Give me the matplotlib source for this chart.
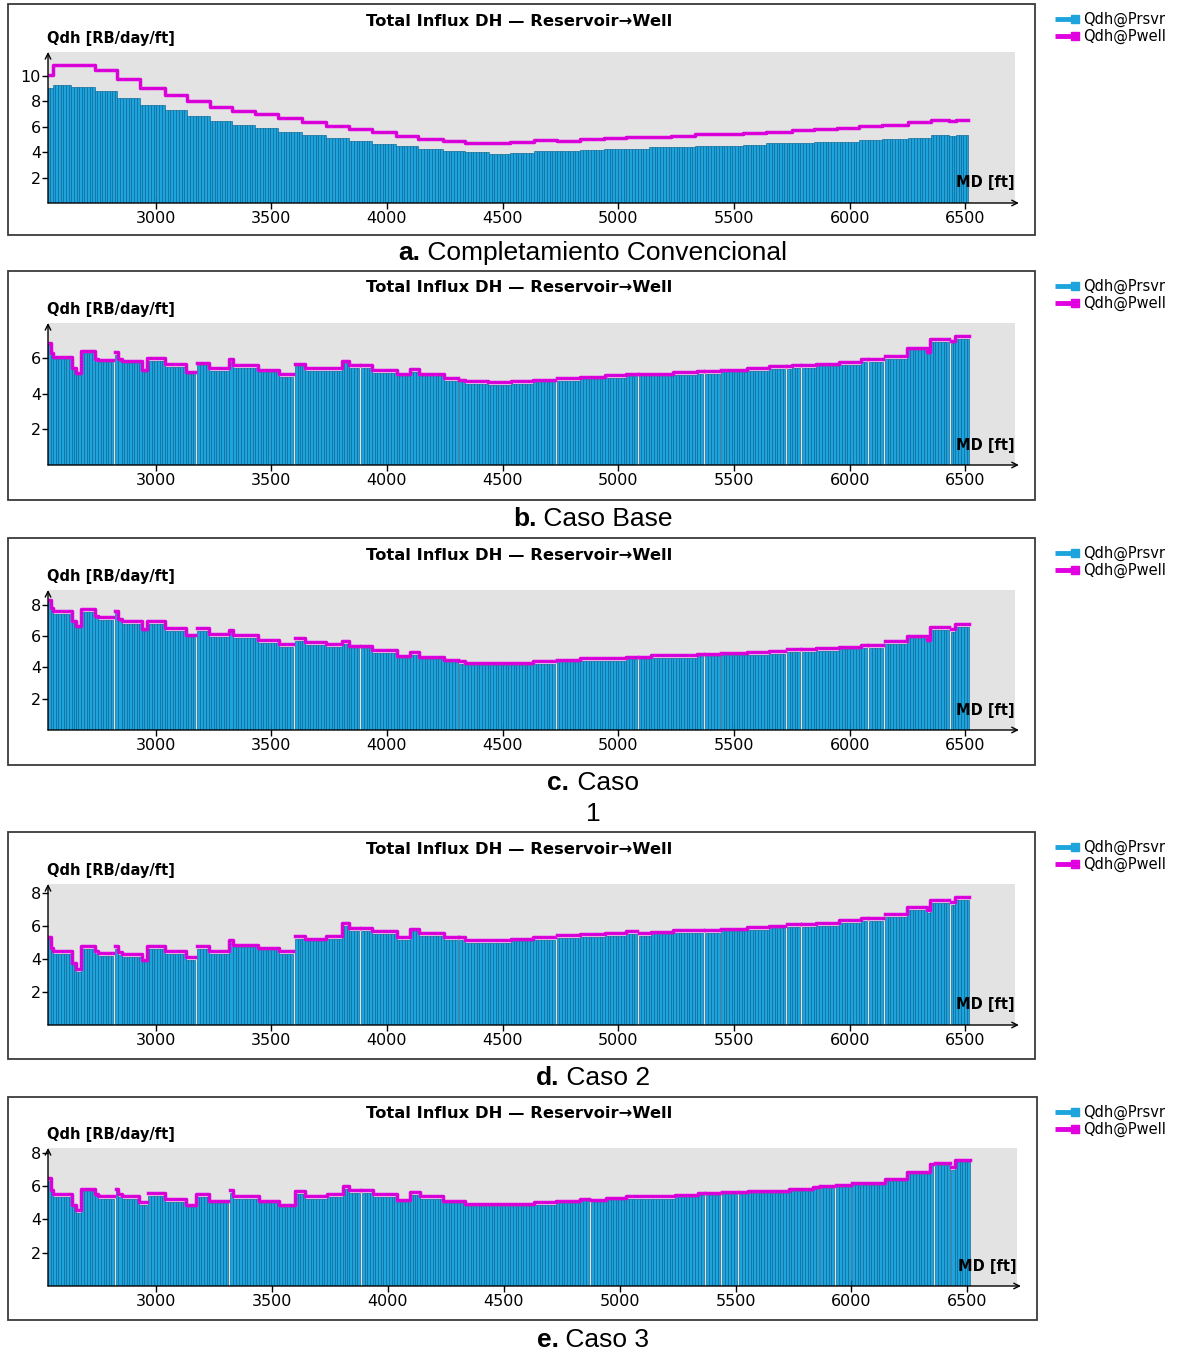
import matplotlib.pyplot as plt
import numpy as np
from matplotlib.lines import Line2D
from matplotlib.patches import Rectangle

W, H = 1184, 1353

# MD segment edges [ft] and influx [RB/day/ft]; 0 = packer (no influx)
a_edges = [2535, 2555, 2636, 2737, 2835, 2931, 3040, 3137, 3233, 3331, 3429, 3530,
           3633, 3738, 3835, 3935, 4039, 4136, 4242, 4339, 4441, 4533, 4635, 4736,
           4836, 4938, 5035, 5132, 5229, 5330, 5435, 5538, 5640, 5750, 5847, 5944,
           6041, 6138, 6253, 6350, 6430, 6460, 6512]
a_prsvr = [9.10, 9.28, 9.17, 8.80, 8.27, 7.73, 7.31, 6.88, 6.48, 6.13, 5.92, 5.60,
           5.39, 5.12, 4.85, 4.68, 4.49, 4.28, 4.09, 3.98, 3.88, 3.96, 4.06, 4.06,
           4.20, 4.28, 4.28, 4.38, 4.38, 4.49, 4.49, 4.59, 4.70, 4.70, 4.80, 4.83,
           4.93, 5.01, 5.15, 5.33, 5.25, 5.33]
a_pwell = [10.1, 10.85, 10.85, 10.45, 9.81, 9.07, 8.53, 8.05, 7.60, 7.28, 6.99, 6.67,
           6.35, 6.08, 5.81, 5.60, 5.30, 5.07, 4.91, 4.70, 4.70, 4.80, 4.93, 4.91,
           5.01, 5.12, 5.23, 5.23, 5.30, 5.41, 5.41, 5.52, 5.62, 5.75, 5.83, 5.94,
           6.04, 6.15, 6.36, 6.55, 6.45, 6.55]

# cases b, c and d share the same completion segments
bcd_edges = [2535, 2547, 2557, 2637, 2655, 2678, 2738, 2752, 2816, 2824, 2839, 2853,
             2940, 2961, 3040, 3130, 3172, 3180, 3230, 3317, 3334, 3443, 3532, 3595,
             3603, 3645, 3738, 3806, 3835, 3881, 3889, 3935, 4042, 4100, 4139, 4245,
             4305, 4313, 4339, 4436, 4536, 4630, 4726, 4734, 4836, 4942, 5035, 5081,
             5089, 5141, 5238, 5341, 5367, 5375, 5437, 5445, 5556, 5653, 5721, 5729,
             5750, 5786, 5794, 5856, 5953, 6050, 6076, 6084, 6143, 6151, 6247, 6332,
             6346, 6429, 6437, 6455, 6517]

b_prsvr = [6.80, 6.16, 5.94, 5.33, 5.05, 6.27, 5.82, 5.79, 0, 6.19,
           5.82, 5.70, 5.24, 5.86, 5.51, 5.09, 0, 5.60, 5.29, 5.79,
           5.47, 5.20, 4.96, 0, 5.53, 5.29, 5.29, 5.70, 5.47, 0,
           5.47, 5.18, 4.98, 5.23, 4.98, 4.72, 0, 4.65, 4.57, 4.50,
           4.57, 4.65, 0, 4.72, 4.82, 4.91, 4.98, 0, 4.98, 4.98,
           5.06, 5.13, 0, 5.13, 0, 5.21, 5.30, 5.40, 0, 5.40,
           5.47, 0, 5.47, 5.54, 5.62, 5.79, 0, 5.79, 0, 5.96,
           6.44, 6.22, 6.91, 0, 6.82, 7.06]
b_pwell = [6.87, 6.26, 6.08, 5.43, 5.19, 6.39, 5.93, 5.89, 0, 6.32,
           5.93, 5.82, 5.34, 5.98, 5.65, 5.21, 0, 5.74, 5.43, 5.93,
           5.62, 5.34, 5.12, 0, 5.67, 5.43, 5.43, 5.84, 5.62, 0,
           5.62, 5.32, 5.13, 5.37, 5.13, 4.87, 0, 4.79, 4.72, 4.64,
           4.72, 4.79, 0, 4.87, 4.96, 5.05, 5.13, 0, 5.13, 5.13,
           5.20, 5.28, 0, 5.28, 0, 5.35, 5.45, 5.54, 0, 5.54,
           5.61, 0, 5.61, 5.69, 5.76, 5.93, 0, 5.93, 0, 6.10,
           6.59, 6.36, 7.05, 0, 6.96, 7.24]

c_prsvr = [8.17, 7.62, 7.41, 6.80, 6.52, 7.52, 7.13, 7.04, 0, 7.47,
           6.97, 6.78, 6.32, 6.78, 6.32, 5.93, 0, 6.32, 5.96, 6.22,
           5.85, 5.57, 5.28, 0, 5.67, 5.41, 5.28, 5.48, 5.20, 0,
           5.20, 4.92, 4.61, 4.78, 4.53, 4.32, 0, 4.23, 4.15, 4.15,
           4.15, 4.23, 0, 4.32, 4.42, 4.42, 4.51, 0, 4.51, 4.59,
           4.59, 4.70, 0, 4.70, 0, 4.76, 4.80, 4.87, 0, 4.97,
           4.97, 0, 4.97, 5.06, 5.14, 5.23, 0, 5.23, 0, 5.51,
           5.85, 5.60, 6.40, 0, 6.26, 6.57]
c_pwell = [8.30, 7.76, 7.59, 6.94, 6.66, 7.70, 7.26, 7.22, 0, 7.61,
           7.11, 6.96, 6.46, 6.96, 6.50, 6.09, 0, 6.50, 6.14, 6.40,
           6.03, 5.75, 5.46, 0, 5.85, 5.59, 5.46, 5.66, 5.38, 0,
           5.38, 5.08, 4.75, 4.96, 4.66, 4.49, 0, 4.41, 4.30, 4.30,
           4.30, 4.41, 0, 4.49, 4.60, 4.60, 4.68, 0, 4.68, 4.77,
           4.77, 4.87, 0, 4.87, 0, 4.94, 4.97, 5.04, 0, 5.15,
           5.15, 0, 5.15, 5.24, 5.32, 5.41, 0, 5.41, 0, 5.68,
           6.02, 5.77, 6.57, 0, 6.43, 6.74]

d_prsvr = [5.22, 4.54, 4.29, 3.62, 3.23, 4.62, 4.31, 4.19, 0, 4.62,
           4.25, 4.15, 3.84, 4.62, 4.29, 3.94, 0, 4.62, 4.29, 5.00,
           4.71, 4.52, 4.29, 0, 5.24, 5.07, 5.22, 6.00, 5.73, 0,
           5.73, 5.52, 5.17, 5.68, 5.42, 5.17, 0, 5.17, 4.99, 4.99,
           5.07, 5.17, 0, 5.27, 5.35, 5.42, 5.50, 0, 5.42, 5.50,
           5.58, 5.58, 0, 5.60, 0, 5.68, 5.76, 5.86, 0, 5.97,
           5.97, 0, 5.97, 6.03, 6.19, 6.29, 0, 6.29, 0, 6.56,
           7.00, 6.80, 7.41, 0, 7.30, 7.59]
d_pwell = [5.34, 4.67, 4.46, 3.74, 3.39, 4.79, 4.48, 4.36, 0, 4.79,
           4.42, 4.32, 3.97, 4.79, 4.46, 4.11, 0, 4.79, 4.46, 5.14,
           4.87, 4.69, 4.46, 0, 5.41, 5.24, 5.39, 6.17, 5.90, 0,
           5.90, 5.67, 5.34, 5.84, 5.58, 5.34, 0, 5.34, 5.15, 5.15,
           5.23, 5.34, 0, 5.44, 5.52, 5.58, 5.68, 0, 5.58, 5.66,
           5.74, 5.74, 0, 5.76, 0, 5.84, 5.93, 6.03, 0, 6.13,
           6.13, 0, 6.13, 6.19, 6.35, 6.46, 0, 6.46, 0, 6.72,
           7.17, 6.97, 7.58, 0, 7.47, 7.76]

e_edges = [2535, 2547, 2557, 2637, 2655, 2678, 2738, 2752, 2820, 2828, 2839, 2853,
           2928, 2960, 2968, 3040, 3130, 3173, 3230, 3313, 3321, 3334, 3443, 3532,
           3602, 3645, 3738, 3806, 3835, 3881, 3889, 3935, 4040, 4097, 4138, 4238,
           4335, 4631, 4728, 4830, 4869, 4877, 4940, 5028, 5240, 5337, 5364, 5372,
           5435, 5443, 5505, 5513, 5553, 5729, 5835, 5858, 5866, 5925, 5933, 5996,
           6004, 6144, 6241, 6338, 6352, 6360, 6423, 6431, 6445, 6510]
e_prsvr = [6.31, 5.63, 5.34, 4.73, 4.42, 5.69, 5.40, 5.24, 0, 5.70,
           5.35, 5.24, 4.87, 0, 5.42, 5.08, 4.73, 5.34, 4.97, 0,
           5.60, 5.26, 4.97, 4.73, 5.53, 5.24, 5.34, 5.86, 5.59, 0,
           5.59, 5.38, 5.06, 5.49, 5.23, 4.98, 4.82, 4.90, 4.98, 5.11,
           0, 5.06, 5.15, 5.23, 5.35, 5.45, 0, 5.45, 0, 5.53,
           0, 5.53, 5.61, 5.72, 5.85, 0, 5.90, 0, 5.98, 0,
           6.06, 6.31, 6.75, 7.20, 0, 7.28, 0, 7.00, 7.47]
e_pwell = [6.47, 5.76, 5.51, 4.89, 4.58, 5.86, 5.55, 5.41, 0, 5.86,
           5.51, 5.41, 5.04, 0, 5.59, 5.24, 4.89, 5.51, 5.14, 0,
           5.76, 5.43, 5.14, 4.89, 5.69, 5.41, 5.51, 6.02, 5.76, 0,
           5.76, 5.53, 5.19, 5.66, 5.39, 5.11, 4.96, 5.05, 5.13, 5.25,
           0, 5.19, 5.31, 5.39, 5.47, 5.57, 0, 5.57, 0, 5.66,
           0, 5.66, 5.74, 5.84, 5.98, 0, 6.02, 0, 6.10, 0,
           6.18, 6.43, 6.88, 7.32, 0, 7.41, 0, 7.14, 7.59]

x_ticks = [3000, 3500, 4000, 4500, 5000, 5500, 6000, 6500]
series_names = ["Qdh@Prsvr", "Qdh@Pwell"]
title = "Total Influx DH \u2014 Reservoir\u2192Well"

BLUE = "#1ea4dc"
BLUE_EDGE = "#0a6696"
MAGENTA = "#e000e0"

fig = plt.figure(figsize=(W / 100, H / 100), dpi=100)


def fx(px):
    return px / W


def fy(py):
    return 1 - py / H


def draw_panel(frame, plot, edges, prsvr, pwell, ymax, yticks):
    x0, y0, x1, y1 = frame
    fig.add_artist(Rectangle((fx(x0), fy(y1)), fx(x1) - fx(x0), fy(y0) - fy(y1),
                             transform=fig.transFigure, fill=False,
                             ec="#3a3a3a", lw=1.3))
    l, t, r, b = plot
    ax = fig.add_axes([fx(l), fy(b), fx(r) - fx(l), fy(t) - fy(b)])
    ax.set_facecolor("#e3e3e3")

    edges = np.asarray(edges, float)
    prsvr = np.asarray(prsvr, float)
    pwell = np.asarray(pwell, float)

    # each segment is drawn as thin cells, like the simulator output
    lefts, widths, heights = [], [], []
    for xa, xb, q in zip(edges[:-1], edges[1:], prsvr):
        if q <= 0:
            continue
        n = max(1, int(round((xb - xa) / 11.5)))
        cuts = np.linspace(xa, xb, n + 1)
        lefts.extend(cuts[:-1])
        widths.extend(np.diff(cuts))
        heights.extend([q] * n)
    ax.bar(lefts, heights, width=widths, align="edge", color=BLUE,
           edgecolor=BLUE_EDGE, linewidth=0.45, zorder=2)

    line = np.where(pwell > 0, pwell, np.nan)
    ys = np.append(line, line[-1])
    ax.step(edges, ys, where="post", color=MAGENTA, lw=2.5, zorder=3)
    ax.step(edges, ys, where="post", color="#8c1a8c", lw=0.8, zorder=3.1,
            dashes=(0.8, 2.0), alpha=0.7)

    ax.set_xlim(2535, 6714)
    ax.set_ylim(0, ymax)
    ax.set_xticks(x_ticks)
    ax.set_yticks(yticks)
    for s in ax.spines.values():
        s.set_visible(False)
    ax.tick_params(axis="x", direction="inout", length=8, width=1, labelsize=11.5, pad=2)
    ax.tick_params(axis="y", direction="out", length=4, width=1, labelsize=11.5, pad=1)

    arrow = dict(arrowstyle="->", lw=1.0, color="black", shrinkA=0, shrinkB=0)
    ax.annotate("", xy=(0, 1.0), xytext=(0, 0), xycoords="axes fraction",
                arrowprops=arrow, annotation_clip=False)
    ax.annotate("", xy=(1.004, 0), xytext=(0, 0), xycoords="axes fraction",
                arrowprops=arrow, annotation_clip=False)

    ax.annotate("Qdh [RB/day/ft]", xy=(0, 1), xycoords="axes fraction",
                xytext=(-1, 4), textcoords="offset points", ha="left", va="bottom",
                fontsize=10.5, fontweight="bold")
    ax.annotate("MD [ft]", xy=(1, 0), xycoords="axes fraction",
                xytext=(0, 9), textcoords="offset points", ha="right", va="bottom",
                fontsize=10.5, fontweight="bold", zorder=5)

    # title and legend above / right of the chart
    fig.text(fx(519), fy(y0 + 17), title, ha="center", va="center",
             fontsize=11.8, fontweight="bold")
    for k, (name, col) in enumerate(zip(series_names, [BLUE, MAGENTA])):
        yy = fy(y0 + 15 + 17 * k)
        fig.add_artist(Line2D([fx(1055), fx(1073)], [yy, yy], color=col, lw=3.5,
                              transform=fig.transFigure, solid_capstyle="butt"))
        fig.add_artist(Line2D([fx(1075)], [yy], color=col, marker="s", ms=5.5,
                              transform=fig.transFigure))
        fig.text(fx(1083), yy, name, ha="left", va="center", fontsize=10.5)
    return ax


def caption(cx, cy, bold, rest):
    t1 = fig.text(0, fy(cy), bold, fontsize=19, fontweight="bold",
                  family="Liberation Sans", va="center", ha="left")
    t2 = fig.text(0, fy(cy), rest, fontsize=19, family="Liberation Sans",
                  va="center", ha="left")
    rend = fig.canvas.get_renderer()
    w1 = t1.get_window_extent(rend).width
    w2 = t2.get_window_extent(rend).width
    start = cx - (w1 + w2) / 2
    t1.set_x(fx(start))
    t2.set_x(fx(start + w1))


draw_panel((8, 4, 1035, 235), (48, 52, 1015, 203), a_edges, a_prsvr, a_pwell,
           11.9, [2, 4, 6, 8, 10])
draw_panel((8, 271, 1035, 500), (48, 323, 1015, 465), bcd_edges, b_prsvr, b_pwell,
           7.97, [2, 4, 6])
draw_panel((8, 538, 1035, 765), (48, 590, 1015, 730), bcd_edges, c_prsvr, c_pwell,
           8.93, [2, 4, 6, 8])
draw_panel((8, 832, 1035, 1059), (48, 884, 1015, 1025), bcd_edges, d_prsvr, d_pwell,
           8.55, [2, 4, 6, 8])
draw_panel((8, 1097, 1037, 1320), (48, 1148, 1017, 1286), e_edges, e_prsvr, e_pwell,
           8.3, [2, 4, 6, 8])

caption(593, 253, "a.", " Completamiento Convencional")
caption(593, 519, "b.", " Caso Base")
caption(593, 783, "c.", " Caso")
fig.text(fx(593), fy(814), "1", fontsize=19, family="Liberation Sans",
         ha="center", va="center")
caption(593, 1078, "d.", " Caso 2")
caption(593, 1340, "e.", " Caso 3")

fig.savefig("out.png", dpi=100)
